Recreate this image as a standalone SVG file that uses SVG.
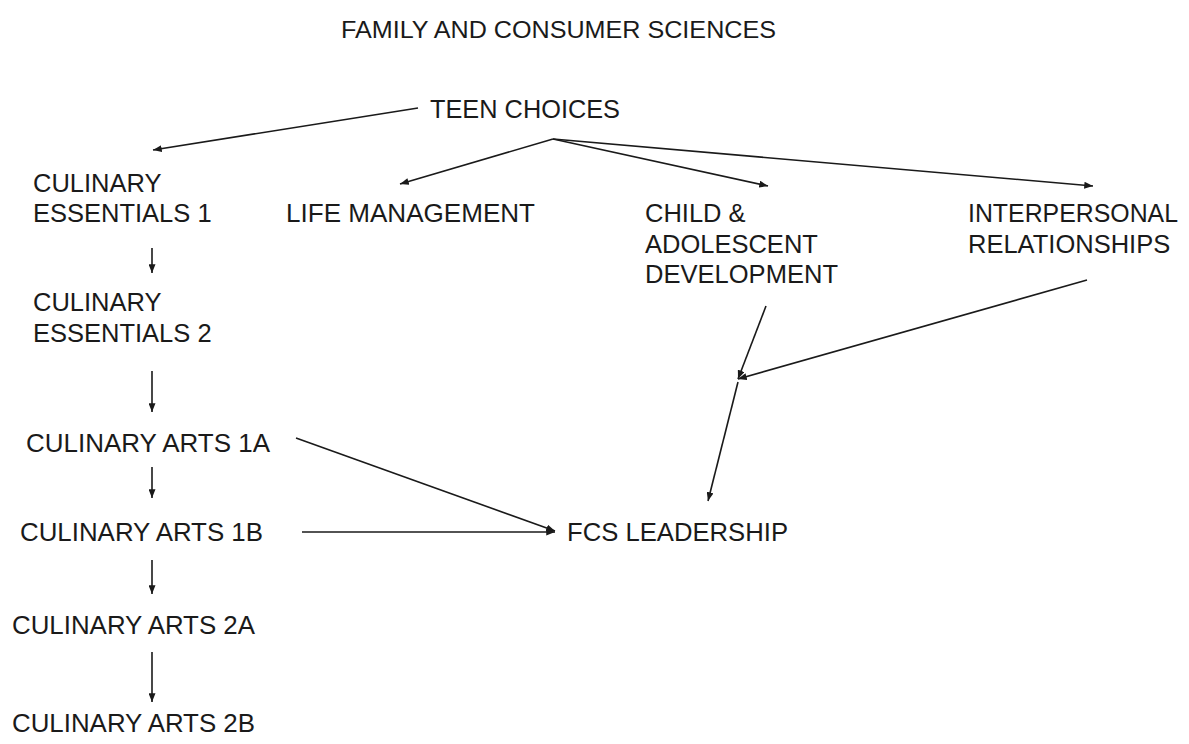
<svg xmlns="http://www.w3.org/2000/svg" width="1189" height="744" viewBox="0 0 1189 744">
<defs>
<style>
text{font-family:"Liberation Sans",Arial,sans-serif;font-size:25.5px;fill:#1a1a1a}
#title text{font-size:24.5px}
.c line{stroke:#1a1a1a;stroke-width:1.6;fill:none}
</style>
<marker id="ah" viewBox="0 0 10 8" refX="10" refY="4" markerWidth="9" markerHeight="7" markerUnits="userSpaceOnUse" orient="auto">
<path d="M0,0 L10,4 L0,8 Z" fill="#1a1a1a"/>
</marker>
</defs>
<rect width="1189" height="744" fill="#fff"/>
<g id="title"><text x="341" y="38" textLength="435" lengthAdjust="spacingAndGlyphs">FAMILY AND CONSUMER SCIENCES</text></g>
<g id="teen"><text x="430" y="118" textLength="190" lengthAdjust="spacingAndGlyphs">TEEN CHOICES</text></g>
<g id="ce1"><text x="33" y="192">CULINARY</text><text x="33" y="222">ESSENTIALS 1</text></g>
<g id="life"><text x="286" y="222" textLength="249" lengthAdjust="spacingAndGlyphs">LIFE MANAGEMENT</text></g>
<g id="child"><text x="645" y="222">CHILD &amp;</text><text x="645" y="253">ADOLESCENT</text><text x="645" y="283" textLength="193" lengthAdjust="spacingAndGlyphs">DEVELOPMENT</text></g>
<g id="inter"><text x="968" y="222" textLength="210" lengthAdjust="spacingAndGlyphs">INTERPERSONAL</text><text x="968" y="253">RELATIONSHIPS</text></g>
<g id="ce2"><text x="33" y="311">CULINARY</text><text x="33" y="342">ESSENTIALS 2</text></g>
<g id="ca1a"><text x="26" y="452" textLength="244" lengthAdjust="spacingAndGlyphs">CULINARY ARTS 1A</text></g>
<g id="ca1b"><text x="20" y="541" textLength="243" lengthAdjust="spacingAndGlyphs">CULINARY ARTS 1B</text></g>
<g id="fcs"><text x="567" y="541" textLength="221" lengthAdjust="spacingAndGlyphs">FCS LEADERSHIP</text></g>
<g id="ca2a"><text x="12" y="634" textLength="243" lengthAdjust="spacingAndGlyphs">CULINARY ARTS 2A</text></g>
<g id="ca2b"><text x="12" y="732" textLength="243" lengthAdjust="spacingAndGlyphs">CULINARY ARTS 2B</text></g>
<g id="connectors" class="c">
<line x1="418" y1="108" x2="153" y2="150" marker-end="url(#ah)"/>
<line x1="553" y1="139" x2="400" y2="184" marker-end="url(#ah)"/>
<line x1="553" y1="139" x2="768" y2="186" marker-end="url(#ah)"/>
<line x1="553" y1="139" x2="1093" y2="186" marker-end="url(#ah)"/>
<line x1="152" y1="248" x2="152" y2="273" marker-end="url(#ah)"/>
<line x1="152" y1="371" x2="152" y2="412" marker-end="url(#ah)"/>
<line x1="152" y1="467" x2="152" y2="498" marker-end="url(#ah)"/>
<line x1="152" y1="560" x2="152" y2="594" marker-end="url(#ah)"/>
<line x1="152" y1="652" x2="152" y2="702" marker-end="url(#ah)"/>
<line x1="296" y1="438" x2="555" y2="531" marker-end="url(#ah)"/>
<line x1="302" y1="532" x2="555" y2="532" marker-end="url(#ah)"/>
<line x1="766" y1="306" x2="738" y2="379" marker-end="url(#ah)"/>
<line x1="1087" y1="280" x2="738" y2="379" marker-end="url(#ah)"/>
<line x1="738" y1="382" x2="708" y2="501" marker-end="url(#ah)"/>
</g>
</svg>
